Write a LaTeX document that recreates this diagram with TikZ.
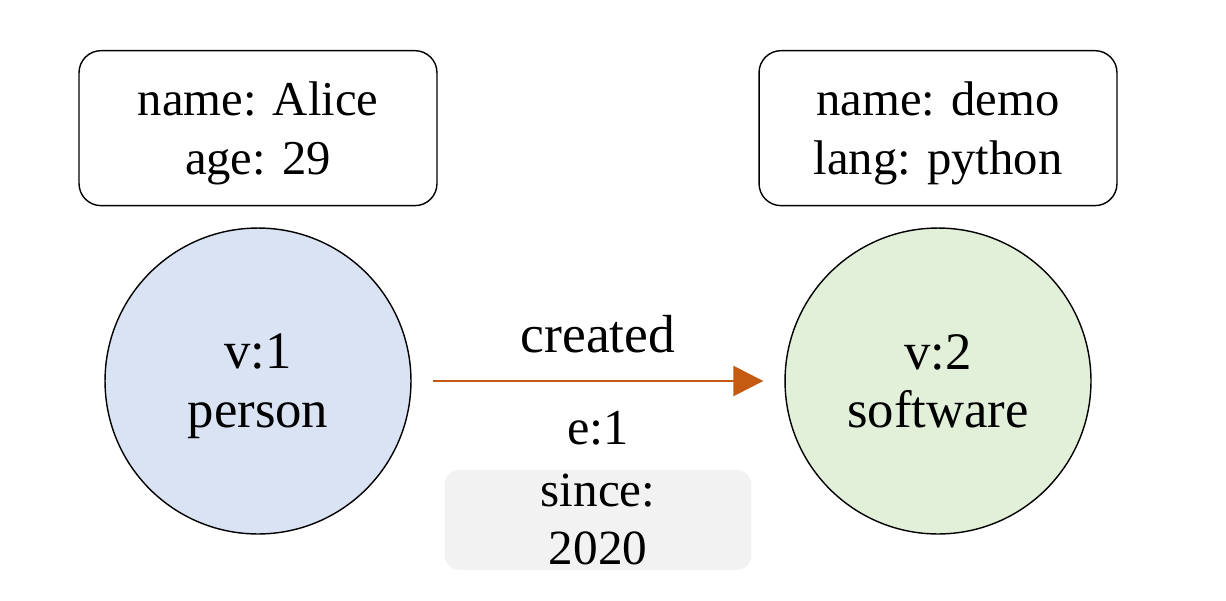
\documentclass[tikz,border=0pt]{standalone}
\usepackage{fontspec}
\setmainfont{Liberation Serif}
\usetikzlibrary{arrows.meta,positioning}
\definecolor{personblue}{HTML}{DAE3F3}
\definecolor{softgreen}{HTML}{E2F0D9}
\definecolor{edgeorange}{HTML}{C55A11}
\definecolor{propgray}{HTML}{F2F2F2}

\begin{document}
\begin{tikzpicture}[
            x=0.02cm, y=0.02cm,
            vertex/.style={draw, circle, line width=0.8pt, minimum size=6.12cm, align=center, text depth=0pt, font=\fontsize{30}{33.5}\selectfont},
            props/.style={draw, rounded corners=0.44cm, line width=0.8pt, minimum width=7.16cm, minimum height=3.1cm, align=center, text depth=0pt, font=\fontsize{27.7}{33.5}\selectfont},
            label/.style={inner sep=0pt, text=black, font=\fontsize{30.5}{33.5}\selectfont},
            to/.style={-{Triangle[length=0.6cm,width=0.6cm]}, edgeorange, line width=1.4pt, shorten >=0.42cm, shorten <=0.42cm},
            node distance = 0.42cm
  ]

  \useasboundingbox (0,0) rectangle (1226,600);

  \node[vertex, fill=personblue] (person) at (258,219) {v:1\\person};
  \node[vertex, fill=softgreen] (software) at (938,219) {v:2\\software};
  \node[props] (alice) [above=of person] {name: Alice\\age: 29};
  \node[props] (demo) [above=of software] {name: demo\\lang: python};

  \draw[to] (person) -- (software)
    node[label, midway, above=0.54cm] (created) {created}
    node[label, midway, below=0.58cm, font=\fontsize{28.7}{33.5}\selectfont] (eid) {e:1};

  \node[fill=propgray, rounded corners=0.3cm, minimum width=6.14cm, minimum height=2cm, inner sep=0pt, align=center, font=\fontsize{28}{33}\selectfont] (since) [below=0.46cm of eid] {since:\\2020};

\end{tikzpicture}
\end{document}
